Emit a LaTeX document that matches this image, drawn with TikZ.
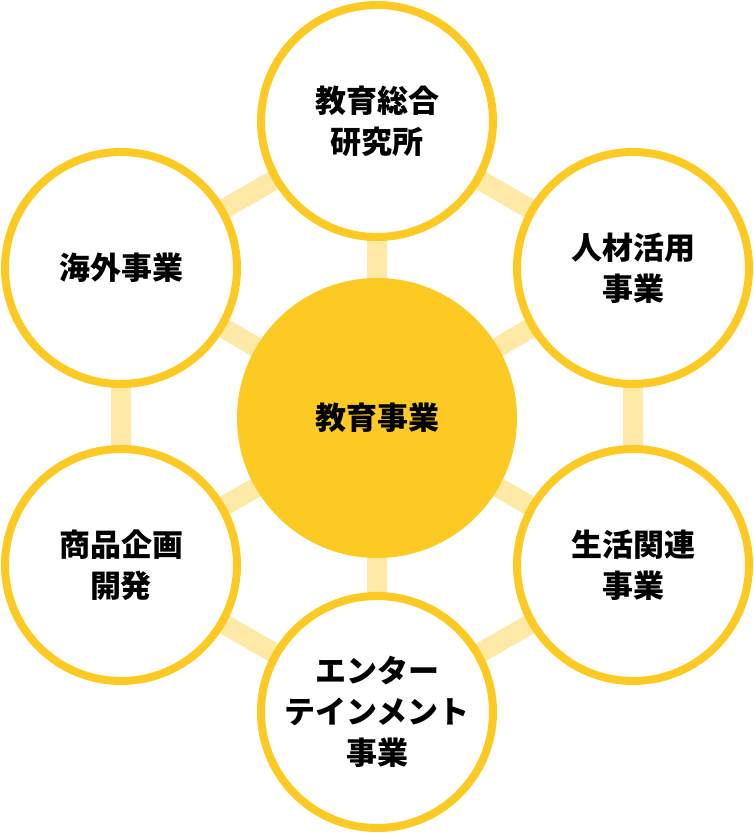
\documentclass[tikz,border=0pt]{standalone}
\usepackage{fontspec}
\newfontfamily\jp{Noto Sans CJK JP}
\usetikzlibrary{backgrounds}
\definecolor{ymain}{HTML}{FCCA22}
\definecolor{yband}{HTML}{FFE9A6}
\tikzset{
  outer/.style={circle, draw=ymain, line width=8pt, fill=white, minimum size=232pt, inner sep=0pt, align=center,
    font={\jp\bfseries\fontsize{31}{41}\selectfont}},
  core/.style={circle, fill=ymain, minimum size=280pt, inner sep=0pt, align=center,
    font={\jp\bfseries\fontsize{31}{41}\selectfont}},
  band/.style={draw=yband, line width=20pt}
}
\begin{document}
\begin{tikzpicture}[x=1pt,y=-1pt]
\useasboundingbox (0,0) rectangle (754,833);
\node[core] (c) at (377,418) {教育事業};
\node[outer] (t) at (377,121) {教育総合\\研究所};
\node[outer] (ur) at (633,268) {人材活用\\事業};
\node[outer] (lr) at (633,565) {生活関連\\事業};
\node[outer] (b) at (377,712) {エンター\\テインメント\\事業};
\node[outer] (ll) at (121,565) {商品企画\\開発};
\node[outer] (ul) at (121,268) {海外事業};
\begin{pgfonlayer}{background}
\draw[band] (t.center) -- (ur.center) -- (lr.center) -- (b.center) -- (ll.center) -- (ul.center) -- cycle;
\foreach \n in {t,ur,lr,b,ll,ul} \draw[band] (c.center) -- (\n.center);
\end{pgfonlayer}
\end{tikzpicture}
\end{document}
